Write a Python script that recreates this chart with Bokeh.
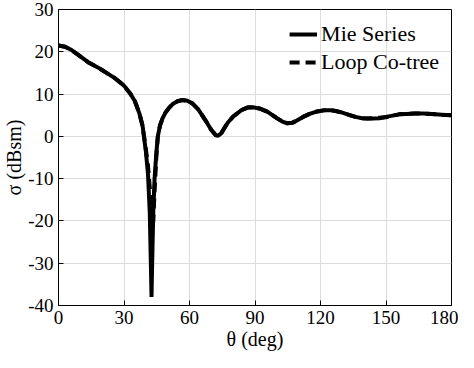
from bokeh.plotting import figure
from bokeh.models import Range1d, FixedTicker, Legend, LegendItem
from bokeh.embed import file_html
from bokeh.resources import INLINE

theta = [0, 3, 6, 10, 14, 18, 22, 26, 30, 33, 35, 37, 38.5, 40, 41, 41.8, 42.3, 42.6, 42.9,
         43.4, 44, 44.8, 45.5, 46.5, 47.7, 49, 50.7, 52.5, 54.5, 56.8, 59, 61.3, 64, 67.3, 70,
         72, 73, 74.5, 76, 77.8, 80, 83.8, 86.5, 89, 92, 95.8, 100, 102.5, 104.8, 107, 109,
         112, 115, 118.5, 122, 124.5, 127, 130, 133, 136, 139, 141.5, 144, 147, 150, 153, 156,
         159.5, 163, 167, 171, 175.5, 180]

mie_series = [21.5, 21.2, 20.4, 18.9, 17.4, 16.3, 15.0, 13.7, 12.0, 10.0, 8.3, 5.5, 2.5, -3.5,
              -9, -18, -30, -38, -30, -18, -10, -4, 0, 2.6, 4.3, 5.6, 6.8, 7.7, 8.3, 8.6, 8.4,
              7.8, 6.4, 3.8, 1.5, 0.3, 0.1, 0.7, 2.0, 3.4, 4.7, 6.2, 6.8, 6.9, 6.6, 5.8, 4.3,
              3.5, 3.1, 3.2, 3.7, 4.6, 5.3, 5.9, 6.2, 6.2, 6.0, 5.6, 5.1, 4.6, 4.3, 4.2, 4.2,
              4.3, 4.6, 4.9, 5.2, 5.3, 5.4, 5.4, 5.3, 5.1, 5.0]

loop_cotree = [21.5, 21.2, 20.4, 18.9, 17.4, 16.3, 15.0, 13.7, 12.0, 10.0, 8.3, 5.5, 2.5, -3.0,
               -7, -12, -17, -20, -23, -20, -13, -5, 0, 2.6, 4.3, 5.6, 6.8, 7.7, 8.3, 8.6, 8.4,
               7.8, 6.4, 3.8, 1.5, 0.3, 0.1, 0.7, 2.0, 3.4, 4.7, 6.2, 6.8, 6.9, 6.6, 5.8, 4.3,
               3.5, 3.1, 3.2, 3.7, 4.6, 5.3, 5.9, 6.2, 6.2, 6.0, 5.6, 5.1, 4.6, 4.3, 4.2, 4.3,
               4.4, 4.5, 4.9, 5.2, 5.3, 5.4, 5.4, 5.3, 5.1, 5.0]

x_ticks = [0, 30, 60, 90, 120, 150, 180]
y_ticks = [-40, -30, -20, -10, 0, 10, 20, 30]
y_tick_labels = {-40: "-40", -30: "-30", -20: "-20", -10: "-10", 0: "0", 10: "10", 20: "20", 30: "30"}

FONT = "Liberation Serif"

p = figure(width=458, height=352, output_backend="svg", toolbar_location=None,
           x_range=Range1d(0, 180), y_range=Range1d(-40, 30),
           min_border_left=10, min_border_right=7, min_border_top=9, min_border_bottom=10)

p.background_fill_color = "white"
p.border_fill_color = "white"
p.outline_line_color = "black"
p.outline_line_width = 1

for ax in (p.xaxis[0], p.yaxis[0]):
    ax.axis_line_color = "black"
    ax.major_tick_in = 5
    ax.major_tick_out = 0
    ax.minor_tick_in = 0
    ax.minor_tick_out = 0
    ax.major_label_text_font = FONT
    ax.major_label_text_font_size = "19px"
    ax.major_label_text_color = "black"
    ax.axis_label_text_font = FONT
    ax.axis_label_text_font_size = "20px"
    ax.axis_label_text_font_style = "normal"
    ax.axis_label_text_color = "black"

p.xaxis.ticker = FixedTicker(ticks=x_ticks)
p.yaxis.ticker = FixedTicker(ticks=y_ticks)
p.yaxis.major_label_overrides = y_tick_labels
p.xaxis.axis_label = "θ (deg)"
p.yaxis.axis_label = "σ (dBsm)"
p.xaxis.axis_label_standoff = 1
p.yaxis.axis_label_standoff = 0
p.xaxis.major_label_standoff = 5
p.yaxis.major_label_standoff = 5

p.xgrid.grid_line_color = "#dcdcdc"
p.ygrid.grid_line_color = "#dcdcdc"
p.xgrid.ticker = FixedTicker(ticks=x_ticks)
p.ygrid.ticker = FixedTicker(ticks=y_ticks)

r1 = p.line(theta, mie_series, line_color="black", line_width=4)
r2 = p.line(theta, loop_cotree, line_color="black", line_width=4, line_dash="10 6")

legend = Legend(items=[LegendItem(label="Mie Series", renderers=[r1]),
                       LegendItem(label="Loop Co-tree", renderers=[r2])],
                location="top_right")
legend.label_text_font = FONT
legend.label_text_font_size = "22px"
legend.label_text_color = "black"
legend.border_line_alpha = 0
legend.background_fill_alpha = 0
legend.glyph_width = 28
legend.label_standoff = 4
legend.spacing = 2
legend.margin = 6
legend.padding = 6
legend.label_height = 24
p.add_layout(legend)

open("out.html", "w").write(file_html(p, INLINE))
